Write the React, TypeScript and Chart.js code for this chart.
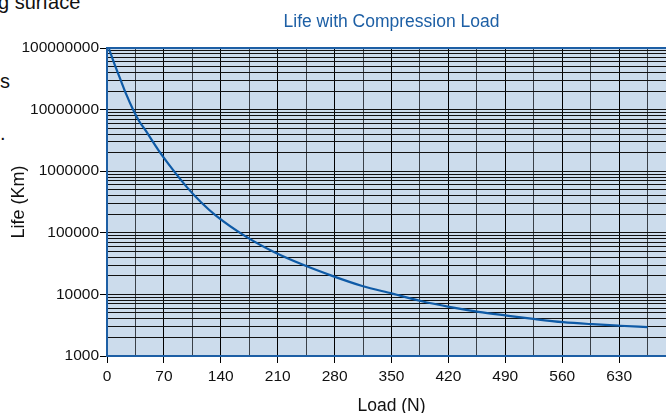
import React, { useEffect, useRef } from 'react';
import { Chart, registerables } from 'chart.js';

Chart.register(...registerables);

// ---- data ----
const loads = [2.5, 9, 16, 24, 32, 39, 47, 63, 80, 98, 116, 134, 170, 206, 242, 277, 314, 351, 386, 421, 457, 492, 527, 561, 597, 631, 665];
const life = [9.6e7, 5.57e7, 3.22e7, 1.73e7, 1.0e7, 6.65e6, 4.67e6, 2.22e6, 1.1e6, 5.57e5, 3.1e5, 1.9e5, 8.83e4, 4.83e4, 2.99e4, 2.0e4, 1.37e4, 1.03e4, 7.82e3, 6.28e3, 5.22e3, 4.53e3, 3.96e3, 3.54e3, 3.28e3, 3.1e3, 2.95e3];

const xLabelTicks = [0, 70, 140, 210, 280, 350, 420, 490, 560, 630];
const xMax = 700;
const yDecades = [1000, 10000, 100000, 1000000, 10000000, 100000000];
const yMinorFactors = [2, 3, 4, 5, 6, 7, 8, 9];

const chartTitle = 'Life with Compression Load';
const xTitle = 'Load (N)';
const yTitle = 'Life (Km)';
const sideTexts = ['g surface', 's', '.'];

const FONT = '"Liberation Sans", Arial, Helvetica, sans-serif';
const BLUE = '#1d5fa5';
const AREA_BG = '#ccdcec';

export default function App() {
  const ref = useRef<HTMLCanvasElement>(null);

  useEffect(() => {
    if (!ref.current) return;

    const yTicks: any[] = [];
    yDecades.forEach((d, i) => {
      yTicks.push({ value: d, major: true });
      if (i < yDecades.length - 1) yMinorFactors.forEach((f) => yTicks.push({ value: d * f, major: false }));
    });
    yTicks.sort((a, b) => a.value - b.value);

    const step = xLabelTicks[1] - xLabelTicks[0];
    const xTicks: any[] = [];
    for (let v = 0; v <= xMax; v += step / 2) {
      xTicks.push({ value: v, major: xLabelTicks.includes(v) });
    }

    const areaPlugin = {
      id: 'areaPlugin',
      beforeDraw(chart: any) {
        const { ctx, chartArea: a } = chart;
        ctx.save();
        ctx.fillStyle = AREA_BG;
        ctx.fillRect(a.left, a.top, a.right - a.left, a.bottom - a.top);
        ctx.restore();
      },
      beforeDatasetsDraw(chart: any) {
        const { ctx, chartArea: a } = chart;
        ctx.save();
        ctx.strokeStyle = BLUE;
        ctx.lineWidth = 2;
        ctx.strokeRect(a.left, a.top, a.right - a.left, a.bottom - a.top);
        ctx.restore();
      },
      afterDraw(chart: any) {
        const { ctx, chartArea: a } = chart;
        ctx.save();
        ctx.font = `17.5px ${FONT}`;
        ctx.fillStyle = BLUE;
        ctx.textAlign = 'center';
        ctx.textBaseline = 'middle';
        ctx.fillText(chartTitle, (a.left + a.right) / 2, 22);
        ctx.restore();
      },
    };

    const chart = new Chart(ref.current, {
      type: 'line',
      data: {
        datasets: [
          {
            data: loads.map((x, i) => ({ x, y: life[i] })),
            borderColor: '#0e5aa6',
            borderWidth: 2.2,
            pointRadius: 0,
            fill: false,
            cubicInterpolationMode: 'monotone',
          },
        ],
      },
      options: {
        animation: false,
        responsive: false,
        devicePixelRatio: 1,
        layout: { padding: { top: 48, right: 44, left: 0, bottom: 0 } },
        plugins: { legend: { display: false }, title: { display: false }, tooltip: { enabled: false } },
        scales: {
          x: {
            type: 'linear',
            min: 0,
            max: xMax,
            afterBuildTicks: (scale: any) => {
              scale.ticks = xTicks.map((t) => ({ ...t }));
            },
            afterFit: (scale: any) => {
              scale.height = 64;
              scale.paddingLeft = 0;
              scale.paddingRight = 0;
            },
            border: { display: false },
            grid: {
              color: (c: any) => (c.tick && c.tick.major ? '#000' : '#3a4048'),
              lineWidth: 1,
              drawTicks: true,
              tickLength: 7,
              tickColor: (c: any) => (c.tick && c.tick.major ? '#000' : 'rgba(0,0,0,0)'),
            },
            ticks: {
              autoSkip: false,
              maxRotation: 0,
              padding: 4,
              color: '#111',
              font: { family: FONT, size: 15.5 },
              callback: (value: any, index: number, ticks: any[]) => (ticks[index].major ? String(value) : ''),
            },
            title: {
              display: true,
              text: xTitle,
              color: '#111',
              font: { family: FONT, size: 17.5 },
              padding: { top: 0, bottom: 3 },
            },
          },
          y: {
            type: 'logarithmic',
            min: yDecades[0],
            max: yDecades[yDecades.length - 1],
            afterBuildTicks: (scale: any) => {
              scale.ticks = yTicks.map((t) => ({ ...t }));
            },
            afterFit: (scale: any) => {
              scale.width = 107;
              scale.paddingTop = 0;
              scale.paddingBottom = 0;
            },
            border: { display: false },
            grid: {
              color: '#111',
              lineWidth: 1,
              drawTicks: true,
              tickLength: 7,
              tickColor: (c: any) => (c.tick && c.tick.major ? '#000' : 'rgba(0,0,0,0)'),
            },
            ticks: {
              autoSkip: false,
              padding: 1,
              color: '#111',
              font: { family: FONT, size: 15.5 },
              callback: (value: any, index: number, ticks: any[]) => (ticks[index].major ? String(value) : ''),
            },
            title: {
              display: true,
              text: yTitle,
              color: '#111',
              font: { family: FONT, size: 18 },
              padding: { top: 8, bottom: 0 },
            },
          },
        },
      },
      plugins: [areaPlugin],
    } as any);

    return () => chart.destroy();
  }, []);

  const sideStyle: React.CSSProperties = {
    position: 'absolute',
    left: 0,
    fontFamily: FONT,
    fontSize: 20,
    lineHeight: '20px',
    color: '#111',
    whiteSpace: 'nowrap',
  };

  return (
    <div style={{ position: 'fixed', left: 0, top: 0, width: 666, height: 413, overflow: 'hidden', background: '#fff' }}>
      <div style={{ ...sideStyle, top: -7.6, left: -2 }}>{sideTexts[0]}</div>
      <div style={{ ...sideStyle, top: 71.4 }}>{sideTexts[1]}</div>
      <div style={{ ...sideStyle, top: 123 }}>{sideTexts[2]}</div>
      <canvas ref={ref} width={720} height={420} style={{ position: 'absolute', left: 0, top: 0, display: 'block' }} />
    </div>
  );
}
